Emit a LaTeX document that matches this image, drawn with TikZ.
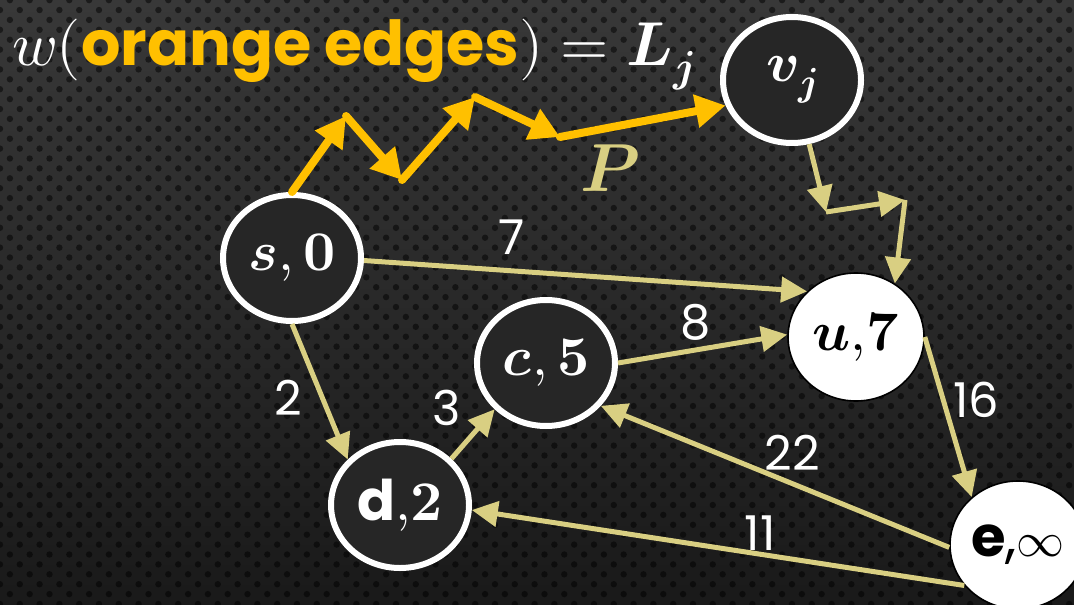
\documentclass[tikz,border=0pt]{standalone}
\usepackage{fontspec}
\usepackage{unicode-math}
\setsansfont{Poppins}
\setmathfont{Latin Modern Math}
\usetikzlibrary{shapes.geometric,arrows.meta,patterns.meta}

\definecolor{edgetan}{HTML}{D9CF82}
\definecolor{pathorange}{HTML}{FFC000}
\definecolor{nodedark}{HTML}{262626}

\begin{document}
\begin{tikzpicture}[
  x=0.5pt, y=-0.5pt,
  vtx/.style={ellipse, draw=white, line width=3pt, fill=nodedark, text=white, minimum width=69pt, minimum height=63pt, inner sep=0pt, font=\fontsize{28}{30}\selectfont},
  hot/.style={ellipse, draw=black, line width=0.8pt, fill=white, text=black, minimum width=68pt, minimum height=64pt, inner sep=0pt, font=\fontsize{28}{30}\selectfont},
  arrow/.style={-{Triangle[length=13pt, width=12.5pt]}, line width=2.5pt, edgetan},
  hop/.style={-{Triangle[length=15pt, width=16pt]}, line width=4pt, pathorange, line cap=round},
  wlabel/.style={font=\sffamily\fontsize{24}{26}\selectfont, text=white, inner sep=0pt},
]

% === BACKGROUND ===
\useasboundingbox (0,0) rectangle (1074,604);
\fill[top color=black!78, bottom color=black!90] (0,0) rectangle (1074,604);
\fill[pattern={Dots[distance=7pt, angle=45, radius=1.6pt]}, pattern color=black, fill opacity=0.5] (0,0) rectangle (1074,604);

% === TITLE ===
\node[anchor=base west, text=white, inner sep=0pt, font=\fontsize{31}{33}\selectfont] (title) at (12,66)
  {$w($\textcolor{pathorange}{\sffamily\bfseries orange edges}$) = \symbfit{L}_{\symbfit{j}}$};

% === VERTICES ===
\node[vtx] (s) at (292,258) {$\symbfit{s},\symbf{0}$};
\node[vtx] (c) at (546,363) {$\symbfit{c},\symbf{5}$};
\node[vtx] (d) at (400,505) {\sffamily\bfseries d$\symbf{{,}2}$};
\node[vtx] (vj) at (792,80) {$\symbfit{v}_{\symbfit{j}}$};
\node[hot] (u) at (856,337) {$\symbfit{u}\symbf{{,}7}$};
\node[hot] (e) at (1018,545) {\sffamily\bfseries e\mdseries,{\fontsize{24}{26}\selectfont$\infty$}};

% === ORANGE PATH P ===
\coordinate (o1) at (346,116);
\coordinate (o2) at (402,180);
\coordinate (o3) at (475,97);
\coordinate (o4) at (560,137);
\draw[hop] (s.north) -- (o1);
\draw[hop] (o1) -- (o2);
\draw[hop] (o2) -- (o3);
\draw[hop] (o3) -- (o4);
\draw[hop] (o4) -- (vj.201);
\node[text=edgetan, font=\fontsize{34}{36}\selectfont] (plabel) at (610,168) {$\symbfit{P}$};

% === EDGES ===
\coordinate (z1) at (826,212);
\coordinate (z2) at (905,200);
\draw[arrow] (vj.285) -- (z1);
\draw[arrow] (z1) -- (z2);
\draw[arrow] (z2) -- (u.54);

\draw[arrow] (s.358) -- (u.137);
\draw[arrow] (s.south) -- (d.139);
\draw[arrow] (d.42) -- (c.222);
\draw[arrow] (c.east) -- (u.178);
\draw[arrow] (u.east) -- (e.134);
\draw[arrow] (e.182) -- (c.322);
\draw[arrow] (e.217) -- (d.356);

% === WEIGHTS ===
\node[wlabel] (w7) at (512,237) {7};
\node[wlabel] (w2) at (288,398) {2};
\node[wlabel] (w3) at (447,408) {3};
\node[wlabel] (w8) at (696,322) {8};
\node[wlabel] (w16) at (976,400) {16};
\node[wlabel] (w22) at (792,453) {22};
\node[wlabel] (w11) at (760,533) {11};
\end{tikzpicture}
\end{document}
